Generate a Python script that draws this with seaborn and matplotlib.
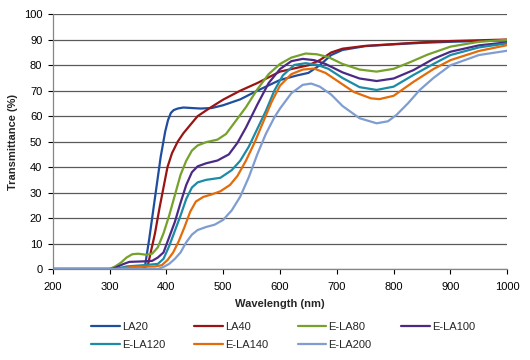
import matplotlib
matplotlib.use("Agg")
import matplotlib.pyplot as plt
import seaborn as sns
import pandas as pd

series_names = ["LA20", "LA40", "E-LA80", "E-LA100", "E-LA120", "E-LA140", "E-LA200"]
series_colors = ["#1F4E9E", "#9A1414", "#76A12A", "#4B2A85", "#1B8BA6", "#E26B0A", "#7F9DD0"]

la20_wl = [200, 355, 362, 370, 380, 390, 398, 403, 408, 413, 420, 430, 445, 460, 480, 500, 530, 560, 600, 630, 650, 670, 690, 710, 750, 800, 850, 900, 950, 1000]
la20_t = [0, 0, 0.5, 12, 28, 44, 54, 58.5, 61.3, 62.4, 63, 63.4, 63.2, 63, 63.2, 64.3, 66.6, 70, 74.2, 76, 77, 80, 84, 86, 87.5, 88.2, 88.8, 89.2, 89.5, 89.7]

la40_wl = [200, 360, 368, 375, 380, 388, 395, 402, 410, 420, 430, 440, 455, 475, 500, 530, 560, 600, 630, 650, 670, 690, 710, 750, 800, 850, 900, 950, 1000]
la40_t = [0, 0, 2, 9, 14, 24, 32, 40, 45.5, 50, 53.3, 56, 60, 63, 66.5, 70, 73, 77.5, 79, 80, 82, 85, 86.5, 87.6, 88.3, 89, 89.5, 89.8, 90.1]

ela80_wl = [200, 300, 310, 320, 330, 340, 350, 365, 375, 385, 395, 405, 415, 425, 435, 445, 455, 470, 490, 505, 520, 540, 560, 580, 600, 620, 645, 665, 685, 710, 740, 770, 800, 830, 860, 900, 950, 1000]
ela80_t = [0, 0, 1, 2.5, 4.5, 5.8, 6, 5.6, 6, 8.5, 14, 21, 29, 37, 42.5, 46.5, 48.5, 49.8, 50.8, 53, 57.5, 63.5, 70.5, 76.5, 80.5, 83, 84.6, 84.3, 83.2, 80.5, 78.3, 77.5, 78.6, 81.3, 84.2, 87.3, 89.2, 90]

ela100_wl = [200, 305, 315, 325, 335, 360, 375, 385, 395, 405, 415, 425, 435, 445, 455, 470, 490, 510, 525, 540, 560, 580, 600, 620, 640, 660, 680, 710, 740, 770, 800, 835, 870, 900, 950, 1000]
ela100_t = [0, 0, 1, 2, 2.8, 3, 3.2, 4.5, 6.5, 12.5, 18.5, 26, 33, 38, 40.3, 41.5, 42.6, 45, 49.5, 55.5, 64.5, 73, 78.5, 81.6, 82.5, 82, 80.5, 77.2, 74.8, 73.8, 74.8, 78.1, 82.5, 85.3, 87.8, 89]

ela120_wl = [200, 310, 330, 360, 385, 395, 405, 415, 425, 435, 445, 455, 470, 495, 515, 530, 545, 560, 575, 590, 605, 625, 645, 665, 685, 710, 740, 770, 800, 835, 870, 900, 950, 1000]
ela120_t = [0, 0, 1, 1.5, 2, 4, 9, 15, 21, 27.5, 32, 34, 35, 35.8, 38.8, 42.5, 48, 55, 62, 70, 76, 80.1, 80.8, 80.2, 78.6, 75, 71.4, 70.3, 71.6, 76.2, 80.5, 84, 87, 88.6]

ela140_wl = [200, 315, 340, 380, 392, 402, 412, 422, 432, 442, 452, 465, 480, 495, 512, 525, 540, 555, 570, 585, 600, 620, 640, 660, 680, 700, 730, 760, 775, 800, 835, 870, 900, 950, 1000]
ela140_t = [0, 0, 0.8, 1, 1.5, 3.5, 6.5, 11, 16.5, 22.5, 26.5, 28.3, 29.3, 30.5, 33, 36.5, 42.5, 49.5, 57.5, 65.5, 72, 76.5, 78.3, 78.7, 77, 74, 69.5, 67, 66.7, 68, 73.5, 78.5, 82, 85.6, 87.9]

ela200_wl = [200, 385, 395, 405, 415, 425, 435, 445, 455, 470, 485, 500, 515, 530, 545, 560, 575, 590, 600, 620, 640, 655, 670, 690, 710, 740, 770, 790, 805, 825, 846, 870, 900, 950, 1000]
ela200_t = [0, 0, 0.8, 2, 4, 6.5, 10.5, 13.5, 15.3, 16.5, 17.4, 19.3, 23, 28.4, 36, 45, 53, 59.5, 63, 69, 72.3, 72.8, 71.6, 68.5, 64, 59.2, 57.2, 58, 60.5, 65, 70.3, 75, 80, 84, 85.7]

x_ticks = [200, 300, 400, 500, 600, 700, 800, 900, 1000]
y_ticks = [0, 10, 20, 30, 40, 50, 60, 70, 80, 90, 100]

all_wl = [la20_wl, la40_wl, ela80_wl, ela100_wl, ela120_wl, ela140_wl, ela200_wl]
all_t = [la20_t, la40_t, ela80_t, ela100_t, ela120_t, ela140_t, ela200_t]

frames = []
for name, wl, t in zip(series_names, all_wl, all_t):
    frames.append(pd.DataFrame({"Wavelength": wl, "T": t, "Sample": name}))
df = pd.concat(frames, ignore_index=True)

sns.set_theme(style="white")
plt.rcParams["font.family"] = ["Liberation Sans", "DejaVu Sans"]

fig = plt.figure(figsize=(5.3, 3.6), dpi=100)
ax = fig.add_axes([52.7 / 530, 1 - 269 / 360, (507.3 - 52.7) / 530, (269 - 14.3) / 360])

sns.lineplot(data=df, x="Wavelength", y="T", hue="Sample", hue_order=series_names,
             palette=dict(zip(series_names, series_colors)), estimator=None,
             linewidth=1.6, ax=ax, legend=True)

ax.set_xlim(200, 1000)
ax.set_ylim(0, 100)
ax.set_xticks(x_ticks)
ax.set_yticks(y_ticks)
ax.yaxis.grid(True, color="#5A5A5A", linewidth=0.9)
ax.xaxis.grid(False)
ax.set_axisbelow(True)
for s in ["top", "right"]:
    ax.spines[s].set_visible(False)
for s in ["left", "bottom"]:
    ax.spines[s].set_color("#868686")
    ax.spines[s].set_linewidth(0.9)
ax.tick_params(axis="both", which="major", labelsize=8, colors="#000000",
               length=3.5, width=0.8, direction="out", bottom=True, left=True)
ax.tick_params(axis="x", pad=6)
ax.tick_params(axis="y", pad=4)
for tl in ax.get_xticklines() + ax.get_yticklines():
    tl.set_color("#868686")

ax.set_xlabel("Wavelength (nm)", fontsize=8, fontweight="bold", labelpad=5)
ax.set_ylabel("Transmittance (%)", fontsize=8, fontweight="bold", labelpad=4)

handles, labels = ax.get_legend_handles_labels()
ax.get_legend().remove()
order = [0, 4, 1, 5, 2, 6, 3]
fig.legend([handles[i] for i in order], [labels[i] for i in order],
           loc="center", bbox_to_anchor=(283 / 530, 1 - 336 / 360), ncol=4,
           frameon=False, fontsize=8, handlelength=2.6, handletextpad=0.2,
           columnspacing=2.6, labelspacing=0.75)

fig.savefig("out.png", dpi=100)
